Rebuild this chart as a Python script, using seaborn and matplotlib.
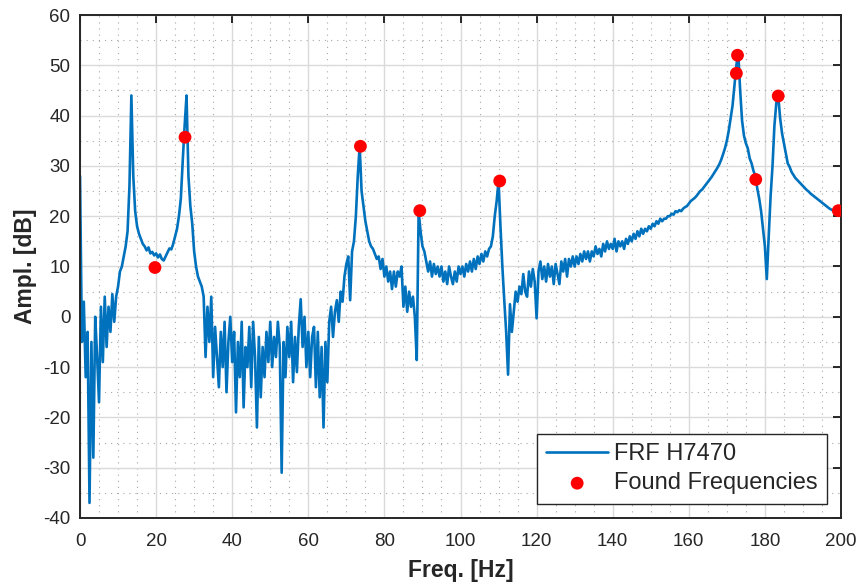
import numpy as np
import matplotlib
matplotlib.use('Agg')
import matplotlib.pyplot as plt
from matplotlib.ticker import MultipleLocator
import seaborn as sns

# frequency axis of the FRF (0.5 Hz resolution)
freq = np.linspace(0, 200, 401)

# amplitude in dB, one row = 5 Hz
amp = [
    28, -5, 3, -12, -3, -37, -5, -28, 0, -8,
    -17, 2, -9, 4, -6, 2, -3, 4.5, -1, 4,
    6, 9, 10, 12, 14, 17, 26, 44, 28, 21,
    18, 16.5, 15.5, 14.5, 14, 13.2, 13.8, 12.6, 12.9, 12.2,
    12.6, 11.8, 12.4, 11.5, 11.2, 12, 12.8, 13.6, 13.4, 14.5,
    16, 17.5, 20, 23.5, 31, 38, 44, 28, 22, 18.5,
    13, 10, 8, 7, 6, 4, -8, 2, -5, 4,
    -12, -2, -8, -14, -3, -10, -1, -15, -5, 0,
    -9, -3, -19, -5, -12, -1, -18, -6, -10, -2,
    -14, -1, -8, -22, -4, -16, -6, -12, -3, -9,
    -1, -10, -4, -8, -1, -6, -31, -5, -12, -2,
    -8, -1, -13, -4, -11, -2, 3.5, -6, 0, -10,
    -3, -12, -4, -2, -14, -3, -16, -6, -22, -5,
    -13, -1, 2, -4, 1, 3.3, -1, 5, 3, 8,
    10.5, 12, 3.3, 13, 15, 20, 28, 34, 25, 22,
    19, 17, 15, 14, 13.5, 12.5, 11.5, 12, 9.5, 11.5,
    8, 10, 7, 9, 5.5, 9, 6, 9, 8, 10,
    2, 6, 1, 5, 2, 4, 0, -8.6, 21, 17,
    14, 13, 11, 9, 11, 8, 10.5, 8.5, 10, 8,
    10, 7, 9, 6.5, 10, 8, 6.5, 9, 7, 10,
    8.5, 10, 8, 10.5, 9, 11, 9, 11.5, 9.5, 12,
    10.5, 12.5, 11, 13, 12, 13.5, 14, 16, 20, 23,
    27, 18, 10, 3.3, -3, -11.5, 2.5, -3, 1, 5,
    3, 6, 4.5, 8.5, 5, 4, 9, 6, 9.5, 7,
    -0.3, 9, 11, 7.5, 10, 7, 10.5, 8, 10, 6.5,
    10.5, 8.5, 6.5, 11, 9, 11.5, 8, 11.5, 10, 12,
    10, 12, 10.5, 12.5, 11, 13, 11.5, 13, 11, 13,
    12, 14, 12.5, 13.5, 12, 14.5, 13, 15, 13.5, 14.5,
    13.5, 15.5, 13, 15, 14, 15, 13.5, 15.5, 14.5, 16,
    15, 16.5, 15.5, 17, 16, 17.5, 16.5, 17.5, 17, 18,
    17.5, 18.5, 18, 19, 18.5, 19.5, 19, 19.5, 19.5, 20,
    20, 20.5, 20.3, 21, 20.8, 21.2, 21, 21.5, 21.8, 22,
    22.5, 23, 23.3, 23.6, 24, 24.5, 25, 25.3, 25.8, 26.3,
    26.8, 27.3, 27.8, 28.4, 29, 29.6, 30.3, 31.2, 32.3, 33.5,
    35, 37, 39.5, 42, 46, 50, 52.5, 45, 39, 36,
    34.5, 33.5, 31.5, 30.5, 29, 28, 25.5, 23.5, 21, 17.5,
    14, 7.5, 16, 24, 30, 38, 42.5, 44, 39.5, 36.5,
    34.5, 32.5, 30.5, 29.8, 28.8, 28.2, 27.6, 27.2, 26.8, 26.4,
    26, 25.6, 25.2, 24.9, 24.5, 24.2, 23.9, 23.6, 23.3, 23,
    22.7, 22.4, 22.1, 21.8, 21.5, 21.3, 21.1, 21, 21, 21,
    20.8,
]

found_f = [19.7, 27.6, 73.7, 89.3, 110.3, 172.5, 172.8, 177.6, 183.5, 199.3]
found_a = [9.8, 35.7, 33.9, 21.1, 27.0, 48.4, 52.0, 27.3, 43.9, 21.1]

sns.set_theme(style='white')
plt.rcParams['font.family'] = ['Liberation Sans', 'DejaVu Sans']
plt.rcParams['axes.unicode_minus'] = False

fig = plt.figure(figsize=(8.59, 5.86), dpi=100)
ax = fig.add_axes([80 / 859, 68 / 586, 761 / 859, 503 / 586])

sns.lineplot(x=freq, y=amp, ax=ax, color='#0072BD', linewidth=1.9, label='FRF H7470')
sns.scatterplot(x=found_f, y=found_a, ax=ax, color='red', s=85, edgecolor='none',
                label='Found Frequencies', zorder=3)

ax.set_xlim(0, 200)
ax.set_ylim(-40, 60)
ax.xaxis.set_major_locator(MultipleLocator(20))
ax.xaxis.set_minor_locator(MultipleLocator(5))
ax.yaxis.set_major_locator(MultipleLocator(10))
ax.yaxis.set_minor_locator(MultipleLocator(5))
ax.set_axisbelow(True)
ax.grid(which='major', color='#dadada', linewidth=1)
ax.grid(which='minor', color='#a8a8a8', linestyle=(0, (1, 4.5)), linewidth=0.8)
ax.tick_params(which='major', direction='in', length=6, width=1.4, top=True, right=True,
               labelsize=13.5, colors='#262626')
ax.tick_params(axis='x', which='major', pad=11)
ax.tick_params(axis='y', which='major', pad=7)
ax.tick_params(which='minor', length=0)
for s in ax.spines.values():
    s.set_visible(True)
    s.set_color('#262626')
    s.set_linewidth(1.4)

ax.set_xlabel('Freq. [Hz]', fontsize=16.5, fontweight='bold', color='#262626', labelpad=6)
ax.set_ylabel('Ampl. [dB]', fontsize=16.5, fontweight='bold', color='#262626', labelpad=4)

leg = ax.legend(loc='lower right', fontsize=17, frameon=True, fancybox=False,
                edgecolor='#262626', framealpha=1, handlelength=2.6, borderaxespad=0.6,
                borderpad=0.4, labelspacing=0.3, handletextpad=0.25)
leg.get_frame().set_linewidth(1)

fig.savefig('out.png', dpi=100)
